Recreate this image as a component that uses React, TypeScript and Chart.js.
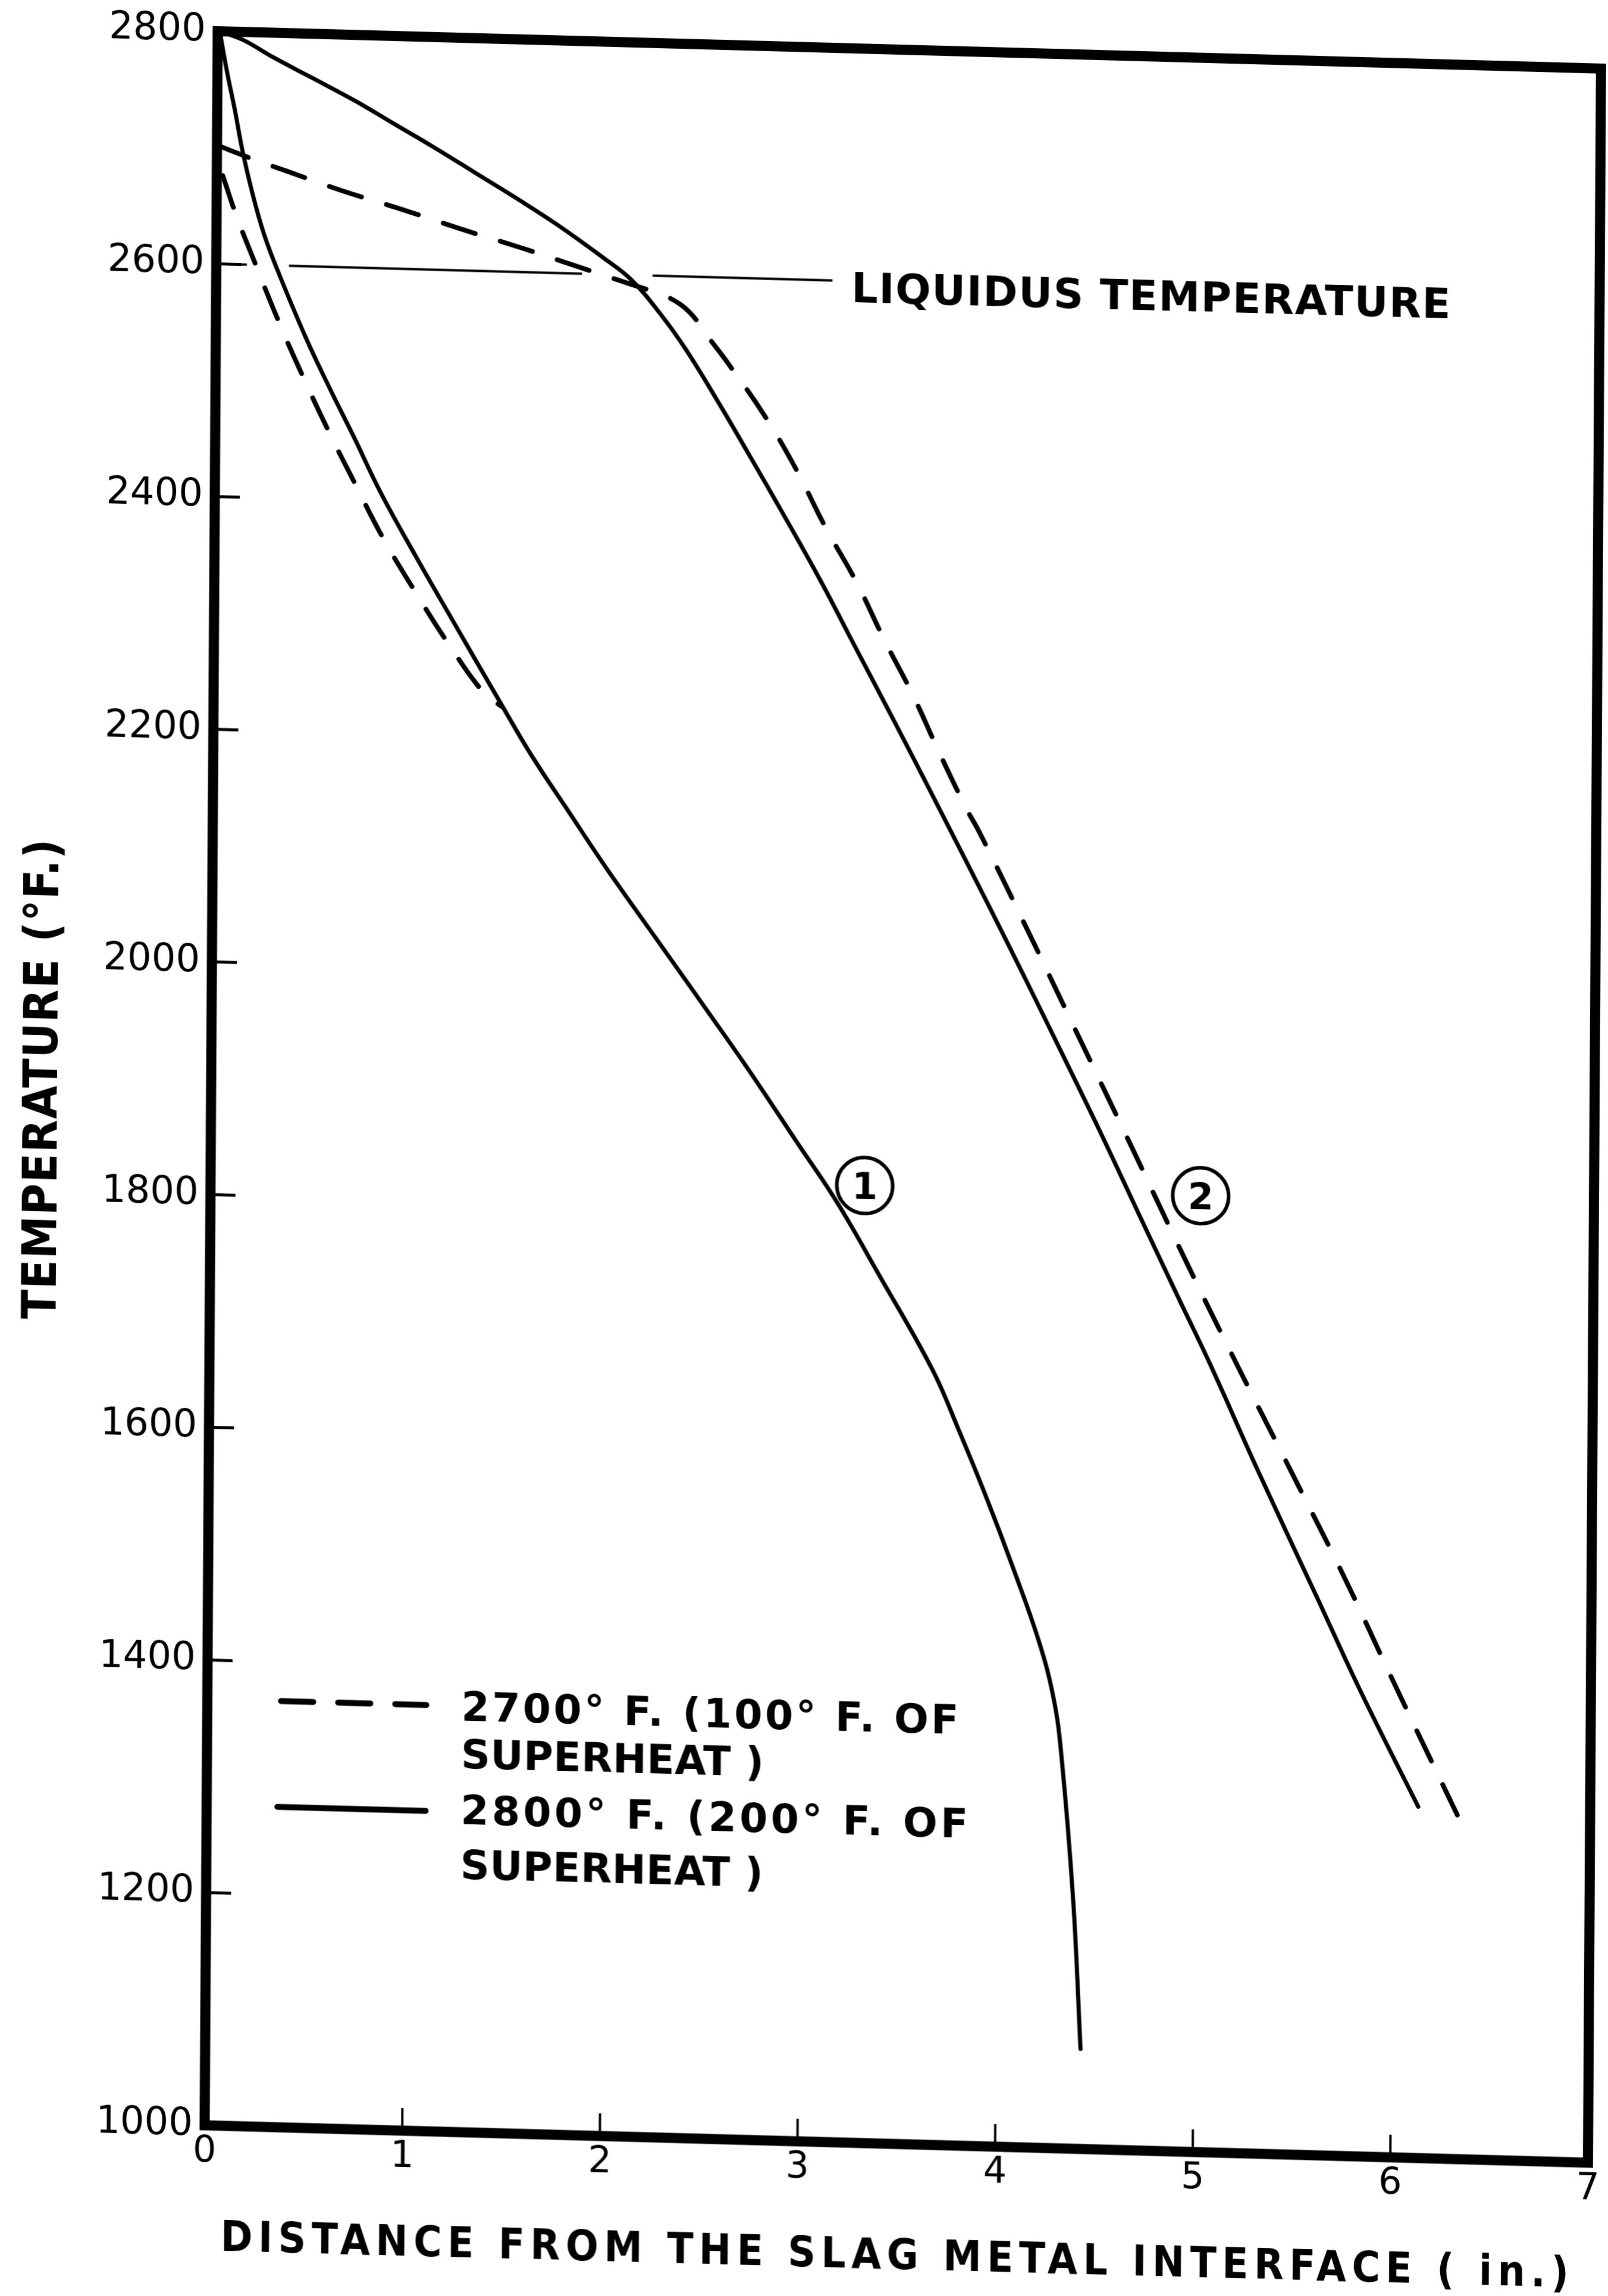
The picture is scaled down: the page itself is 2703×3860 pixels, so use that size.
import React, { useEffect, useRef } from 'react';
import { Chart, registerables } from 'chart.js';

Chart.register(...registerables);

// ---------- data ----------
const distanceTicks = [0, 1, 2, 3, 4, 5, 6, 7];
const temperatureTicks = [1000, 1200, 1400, 1600, 1800, 2000, 2200, 2400, 2600, 2800];

// Curve 1 – 2800 °F pour (solid)
const curve1SolidX = [0.01, 0.05, 0.09, 0.13, 0.18, 0.24, 0.32, 0.46, 0.58, 0.70, 0.84, 1.02, 1.19, 1.46, 1.61, 1.81, 2.00, 2.27, 2.54, 2.73, 2.96, 3.17, 3.38, 3.656, 3.796, 3.937, 4.07, 4.206, 4.28, 4.321, 4.387, 4.429];
const curve1SolidY = [2800, 2764, 2732, 2697, 2662, 2627, 2592, 2537, 2495, 2455, 2407, 2353, 2304, 2227, 2185, 2135, 2088, 2025, 1962, 1917, 1860, 1808, 1748, 1667, 1614, 1557, 1499, 1435, 1388, 1341, 1214, 1086];

// Curve 1 – 2700 °F pour (dashed)
const curve1DashedX = [0.03, 0.10, 0.20, 0.32, 0.44, 0.57, 0.71, 0.85, 1.02, 1.19, 1.37, 1.46];
const curve1DashedY = [2676, 2642, 2600, 2551, 2506, 2460, 2414, 2369, 2322, 2278, 2237, 2226];

// Curve 2 – 2800 °F pour (solid)
const curve2SolidX = [0.01, 0.13, 0.28, 0.48, 0.69, 0.89, 1.10, 1.31, 1.52, 1.72, 1.96, 2.10, 2.25, 2.38, 2.54, 2.71, 2.87, 3.06, 3.25, 3.45, 3.64, 3.93, 4.12, 4.31, 4.51, 4.70, 4.90, 5.07, 5.30, 5.61, 5.84, 6.13];
const curve2SolidY = [2800, 2793, 2779, 2762, 2744, 2725, 2705, 2684, 2663, 2642, 2614, 2596, 2567, 2537, 2494, 2446, 2400, 2344, 2284, 2221, 2160, 2066, 2003, 1939, 1871, 1804, 1734, 1675, 1590, 1480, 1398, 1302];

// Curve 2 – 2700 °F pour (dashed)
const curve2DashedX = [0.00, 0.18, 0.36, 0.63, 0.94, 1.23, 1.54, 1.83, 2.14, 2.24, 2.34, 2.41, 2.48, 2.59, 2.78, 2.94, 3.09, 3.25, 3.39, 3.54, 3.67, 3.81, 3.88, 4.10, 4.37, 4.66, 4.93, 5.21, 5.48, 5.75, 6.00, 6.33];
const curve2DashedY = [2702, 2691, 2681, 2666, 2651, 2636, 2621, 2606, 2590, 2585, 2577, 2567, 2551, 2527, 2482, 2437, 2388, 2341, 2293, 2245, 2198, 2150, 2129, 2055, 1962, 1862, 1768, 1674, 1586, 1497, 1409, 1295];

// Liquidus temperature line (broken where the curves cross it)
const liquidusX = [0, 0.155, 0.26, 0.368, 1.851, 2.03, 2.208, 3.118];
const liquidusY = [2600, 2600, null, 2600, 2600, null, 2600, 2600];

// Text
const liquidusLabel = 'LIQUIDUS TEMPERATURE';
const legendLines = ['2700° F. (100° F. OF', 'SUPERHEAT )', '2800° F. (200° F. OF', 'SUPERHEAT )'];
const curveLabels = ['1', '2'];
const curveLabelX = [3.31, 5.01];
const curveLabelY = [1823, 1822];
const xTitle = 'DISTANCE FROM THE SLAG METAL INTERFACE ( in.)';
const yTitle = 'TEMPERATURE (°F.)';

// ---------- helpers ----------
const pts = (xs: number[], ys: (number | null)[]) => xs.map((x, i) => ({ x, y: ys[i] }));

const CAP = 0.729; // cap height of DejaVu Sans, in em
const FONT = 'bold "DejaVu Sans"';
const COND = 'bold "DejaVu Sans Condensed", "DejaVu Sans"';

function fontStr(size: number, fam: string) {
  if (fam.startsWith('bold ')) return `bold ${size}px ${fam.slice(5)}`;
  return `${size}px ${fam}`;
}

function drawFitted(ctx: any, text: string, left: number, midY: number, width: number, size: number, fam: string) {
  ctx.save();
  ctx.font = fontStr(size, fam);
  ctx.textBaseline = 'alphabetic';
  ctx.textAlign = 'left';
  ctx.fillStyle = '#000';
  const base = midY + (CAP * size) / 2;
  const hasLS = 'letterSpacing' in ctx;
  if (hasLS) ctx.letterSpacing = '0px';
  const w = ctx.measureText(text).width;
  const ls = (width - w) / Math.max(1, text.length - 1);
  if (ls >= 0 && hasLS) {
    ctx.letterSpacing = `${ls}px`;
    ctx.fillText(text, left, base);
  } else {
    ctx.translate(left, base);
    ctx.scale(width / w, 1);
    ctx.fillText(text, 0, 0);
  }
  ctx.restore();
}

const annotationPlugin = {
  id: 'figureAnnotations',
  afterDatasetsDraw(chart: any) {
    const { ctx, chartArea: a, scales } = chart;
    const x = scales.x;
    const y = scales.y;
    ctx.save();
    ctx.strokeStyle = '#000';
    ctx.lineCap = 'butt';
    // inward tick marks
    ctx.lineWidth = 5;
    temperatureTicks.forEach((v) => {
      if (v === temperatureTicks[0] || v === temperatureTicks[temperatureTicks.length - 1]) return;
      const py = y.getPixelForValue(v);
      ctx.beginPath();
      ctx.moveTo(a.left, py);
      ctx.lineTo(a.left + 42, py);
      ctx.stroke();
    });
    ctx.lineWidth = 4;
    distanceTicks.forEach((v) => {
      if (v === distanceTicks[0] || v === distanceTicks[distanceTicks.length - 1]) return;
      const px = x.getPixelForValue(v);
      ctx.beginPath();
      ctx.moveTo(px, a.bottom);
      ctx.lineTo(px, a.bottom - 38);
      ctx.stroke();
    });
    // heavy frame
    ctx.lineWidth = 17;
    ctx.lineJoin = 'miter';
    ctx.strokeRect(a.left, a.top, a.right - a.left, a.bottom - a.top);
    ctx.restore();
  },
  afterDraw(chart: any) {
    const { ctx, chartArea: a, scales } = chart;
    const x = scales.x;
    const y = scales.y;
    ctx.save();
    ctx.strokeStyle = '#000';
    ctx.fillStyle = '#000';

    // liquidus label, placed after the end of the liquidus line
    const lqx = x.getPixelForValue(liquidusX[liquidusX.length - 1]) + 32;
    const lqy = y.getPixelForValue(2600) + 10;
    drawFitted(ctx, liquidusLabel, lqx, lqy, 1007, 70, FONT);

    // circled curve numbers
    curveLabels.forEach((lab, i) => {
      const cx = x.getPixelForValue(curveLabelX[i]);
      const cy = y.getPixelForValue(curveLabelY[i]);
      ctx.beginPath();
      ctx.lineWidth = 6;
      ctx.arc(cx, cy, 47, 0, Math.PI * 2);
      ctx.stroke();
      ctx.font = `bold 62px "DejaVu Sans"`;
      ctx.textAlign = 'center';
      ctx.textBaseline = 'alphabetic';
      ctx.fillText(lab, cx, cy + (CAP * 62) / 2);
    });

    // legend
    ctx.lineWidth = 10;
    ctx.lineCap = 'round';
    ctx.setLineDash([54, 42]);
    ctx.beginPath();
    ctx.moveTo(a.left + 124, a.top + 2804);
    ctx.lineTo(a.left + 368, a.top + 2804);
    ctx.stroke();
    ctx.setLineDash([]);
    ctx.beginPath();
    ctx.moveTo(a.left + 119, a.top + 2982);
    ctx.lineTo(a.left + 368, a.top + 2982);
    ctx.stroke();
    const legendY = [2804, 2884, 2978, 3070];
    const legendW = [836, 509, 853, 509];
    legendLines.forEach((t, i) => {
      drawFitted(ctx, t, a.left + 427, a.top + legendY[i], legendW[i], 68, FONT);
    });

    // axis titles
    drawFitted(ctx, xTitle, a.left + 28, a.bottom + 184, 2266, 72, COND);
    ctx.save();
    ctx.translate(a.left - 288, a.top + 1770);
    ctx.rotate(-Math.PI / 2);
    drawFitted(ctx, yTitle, -403, 0, 807, 80, COND);
    ctx.restore();

    ctx.restore();
  },
};

export default function App() {
  const ref = useRef<HTMLCanvasElement>(null);

  useEffect(() => {
    const canvas = ref.current;
    if (!canvas) return;
    const solid = {
      borderColor: '#000',
      pointRadius: 0,
      fill: false,
      tension: 0.4,
      borderJoinStyle: 'round' as const,
      borderCapStyle: 'round' as const,
    };
    const chart = new Chart(canvas, {
      type: 'line',
      data: {
        datasets: [
          { ...solid, label: '2800° F. curve 1', data: pts(curve1SolidX, curve1SolidY), borderWidth: 7 },
          { ...solid, label: '2700° F. curve 1', data: pts(curve1DashedX, curve1DashedY), borderWidth: 8, borderDash: [56, 44] },
          { ...solid, label: '2800° F. curve 2', data: pts(curve2SolidX, curve2SolidY), borderWidth: 7 },
          { ...solid, label: '2700° F. curve 2', data: pts(curve2DashedX, curve2DashedY), borderWidth: 8, borderDash: [56, 44] },
          {
            label: 'Liquidus temperature',
            data: pts(liquidusX, liquidusY),
            borderColor: '#000',
            borderWidth: 4,
            pointRadius: 0,
            tension: 0,
            spanGaps: false,
            fill: false,
          },
        ] as any,
      },
      options: {
        animation: false,
        responsive: false,
        devicePixelRatio: 1,
        events: [],
        layout: { padding: { left: 0, top: 50, right: 21, bottom: 0 } },
        plugins: {
          legend: { display: false },
          tooltip: { enabled: false },
          title: { display: false },
        },
        scales: {
          x: {
            type: 'linear',
            position: 'bottom',
            min: 0,
            max: 7,
            afterBuildTicks: (s: any) => {
              s.ticks = distanceTicks.map((v) => ({ value: v }));
            },
            afterFit: (s: any) => {
              s.height = 281;
            },
            ticks: {
              autoSkip: false,
              maxRotation: 0,
              padding: 8,
              color: '#000',
              font: { family: 'DejaVu Sans', size: 62 },
              callback: (v: any) => String(v),
            },
            grid: { display: false, drawTicks: false },
            border: { display: false },
          },
          y: {
            type: 'linear',
            min: 1000,
            max: 2800,
            afterBuildTicks: (s: any) => {
              s.ticks = temperatureTicks.map((v) => ({ value: v }));
            },
            afterFit: (s: any) => {
              s.width = 350;
            },
            ticks: {
              autoSkip: false,
              padding: 20,
              color: '#000',
              font: { family: 'DejaVu Sans', size: 64 },
              callback: (v: any) => String(v),
            },
            grid: { display: false, drawTicks: false },
            border: { display: false },
          },
        },
      } as any,
      plugins: [annotationPlugin as any],
    });
    return () => chart.destroy();
  }, []);

  return (
    <div
      style={{
        position: 'absolute',
        left: 0,
        top: 0,
        width: 2703,
        height: 3860,
        overflow: 'hidden',
        background: '#fff',
      }}
    >
      <canvas
        ref={ref}
        width={2703}
        height={3860}
        style={{
          display: 'block',
          width: '2703px',
          height: '3860px',
          transformOrigin: '0 0',
          transform: 'matrix(1, 0.02702, -0.006234, 1, 16.31, -15.46)',
        }}
      />
    </div>
  );
}
